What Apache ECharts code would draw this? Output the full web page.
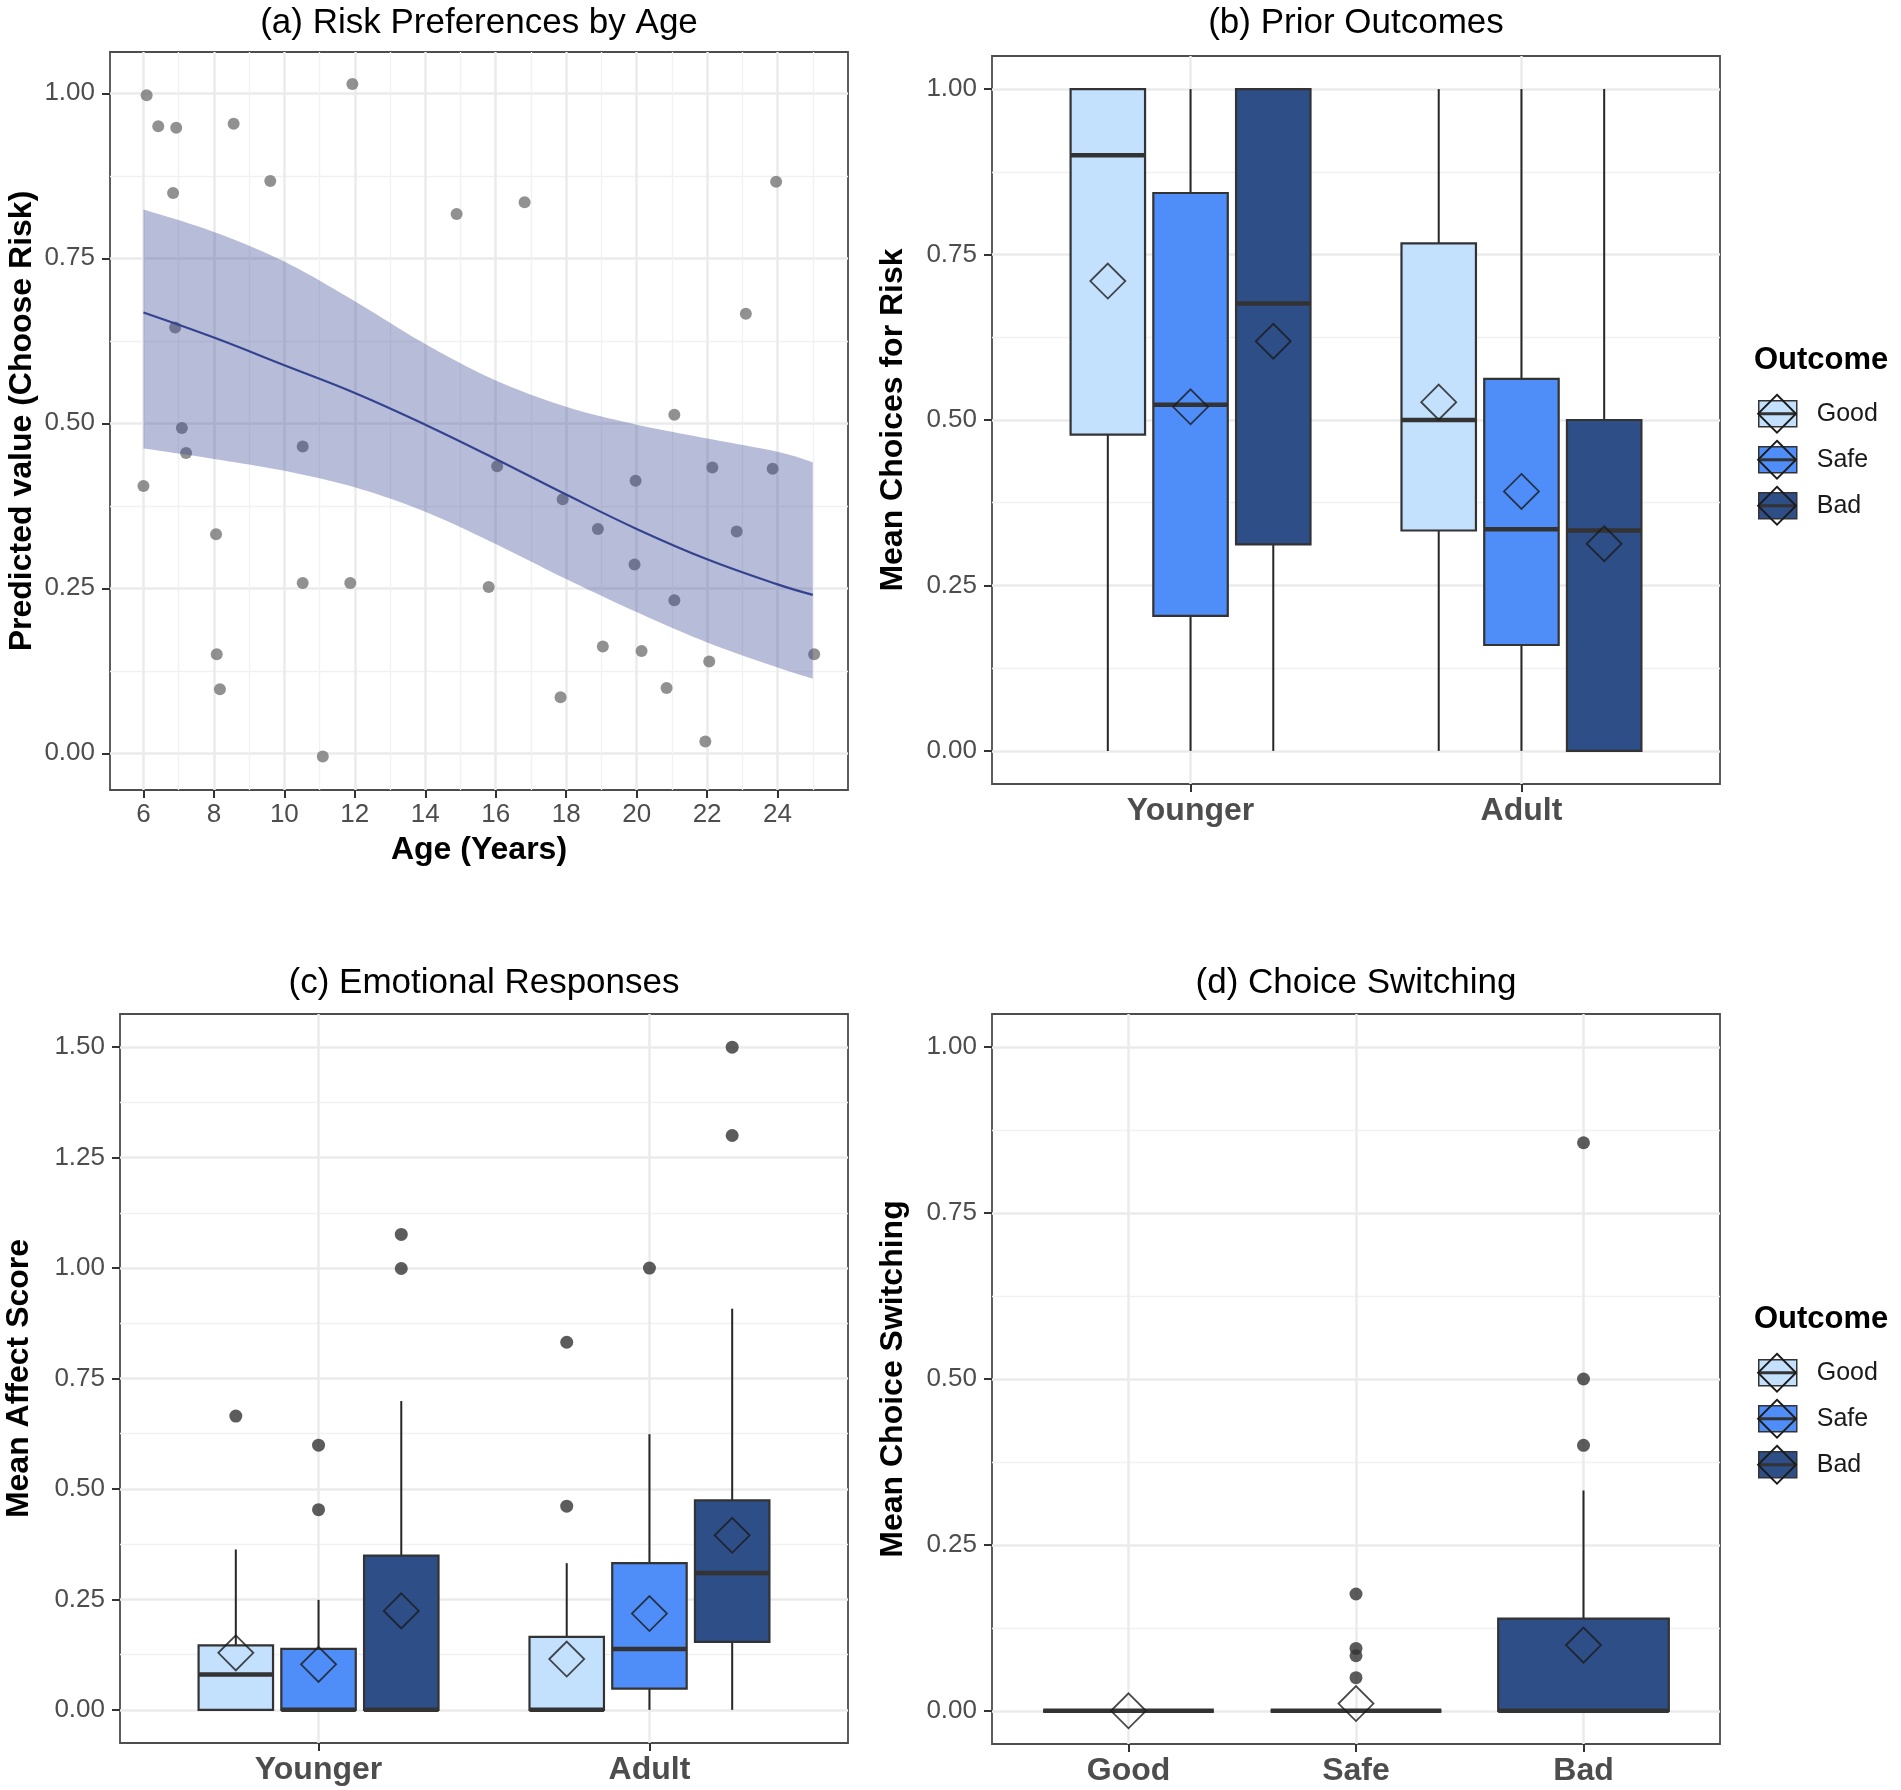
<!DOCTYPE html>
<html><head><meta charset="utf-8">
<script src="https://cdn.jsdelivr.net/npm/echarts@6/dist/echarts.min.js"></script>
<style>html,body{margin:0;padding:0;background:#fff}#c{width:1901px;height:1790px}</style>
</head><body><div id="c"></div><script>
// ---------------- DATA ----------------
const outcomes = ['Good', 'Safe', 'Bad'];
const ageGroups = ['Younger', 'Adult'];
const outcomeColors = ['#C3E0FC', '#4F8EF8', '#2E4E88'];

// (a) scatter of individual predicted values
const ageX = [6.09, 6.42, 6.93, 8.56, 11.93, 9.6, 6.84, 14.89, 16.82, 23.96, 23.1, 6.9, 7.09, 7.21, 10.52, 6.0, 21.07, 16.04, 22.15, 23.86, 19.97, 17.9, 18.9, 22.84, 8.06, 19.94, 10.52, 11.87, 15.8, 21.07, 19.04, 20.14, 8.08, 25.04, 22.06, 8.17, 20.85, 17.84, 21.95, 11.09];
const riskY = [0.997, 0.95, 0.948, 0.954, 1.014, 0.867, 0.849, 0.817, 0.835, 0.866, 0.666, 0.645, 0.493, 0.455, 0.465, 0.405, 0.513, 0.435, 0.433, 0.431, 0.413, 0.385, 0.34, 0.336, 0.332, 0.286, 0.258, 0.258, 0.252, 0.232, 0.162, 0.155, 0.15, 0.15, 0.139, 0.097, 0.099, 0.085, 0.018, -0.005];
// (a) fitted curve and confidence band
const fitAge = [6, 8, 10, 12, 14, 16, 18, 20, 22, 24, 25];
const fitMean = [0.668, 0.630, 0.588, 0.546, 0.498, 0.446, 0.392, 0.340, 0.294, 0.256, 0.240];
const fitUpper = [0.824, 0.790, 0.745, 0.685, 0.620, 0.565, 0.525, 0.498, 0.477, 0.457, 0.441];
const fitLower = [0.462, 0.446, 0.428, 0.403, 0.366, 0.317, 0.264, 0.214, 0.168, 0.130, 0.113];
const ageTicks = [6, 8, 10, 12, 14, 16, 18, 20, 22, 24];
const ageMinor = [7, 9, 11, 13, 15, 17, 19, 21, 23, 25];
const unitTicks = [0, 0.25, 0.5, 0.75, 1];
const unitMinor = [0.125, 0.375, 0.625, 0.875];
const affectTicks = [0, 0.25, 0.5, 0.75, 1, 1.25, 1.5];
const affectMinor = [0.125, 0.375, 0.625, 0.875, 1.125, 1.375];

// (b) boxplots: [lower whisker, Q1, median, Q3, upper whisker] for Younger, Adult
const priorBoxGood = [[0, 0.478, 0.90, 1.00, 1.00], [0, 0.333, 0.50, 0.767, 1.00]];
const priorBoxSafe = [[0, 0.204, 0.523, 0.843, 1.00], [0, 0.160, 0.335, 0.562, 1.00]];
const priorBoxBad  = [[0, 0.312, 0.676, 1.00, 1.00], [0, 0, 0.333, 0.50, 1.00]];
const priorMeanGood = [0.71, 0.527];
const priorMeanSafe = [0.52, 0.392];
const priorMeanBad  = [0.619, 0.313];

// (c)
const affectBoxGood = [[0, 0, 0.08, 0.146, 0.363], [0, 0, 0, 0.165, 0.332]];
const affectBoxSafe = [[0, 0, 0, 0.138, 0.249], [0, 0.048, 0.138, 0.332, 0.624]];
const affectBoxBad  = [[0, 0, 0, 0.349, 0.699], [0, 0.154, 0.31, 0.474, 0.908]];
const affectMeanGood = [0.129, 0.115];
const affectMeanSafe = [0.103, 0.218];
const affectMeanBad  = [0.224, 0.395];
const affectOutGood = [[0.665], [0.832, 0.461]];
const affectOutSafe = [[0.599, 0.453], [1.0]];
const affectOutBad  = [[0.999, 1.076], [1.50, 1.30]];

// (d) per outcome
const switchBox = [[0, 0, 0, 0, 0], [0, 0, 0, 0, 0], [0, 0, 0, 0.139, 0.332]];
const switchMean = [0, 0.011, 0.099];
const switchOut = [[], [0.176, 0.094, 0.083, 0.05], [0.856, 0.5, 0.4]];

// ---------------- LAYOUT ----------------
const FONT = '"Liberation Sans", Arial, Helvetica, sans-serif';
const dodge = [-0.25, 0, 0.25];
const narrowBox = 0.225, wideBox = 0.75;
const grids = [
  {left: 110, top: 52, width: 738, height: 738},
  {left: 992, top: 56, width: 728, height: 728},
  {left: 120, top: 1014, width: 728, height: 729},
  {left: 992, top: 1014, width: 728, height: 730}
];
const legendTops = [400, 1359];
const legendLeft = 1758, keyW = 38, keyH = 26, keyStep = 46, keyStroke = 1.5;

const tickLabel = {fontSize: 26, color: '#4d4d4d', fontFamily: FONT};
const catLabel = {fontSize: 32, fontWeight: 'bold', color: '#4d4d4d', fontFamily: FONT};
const nameStyle = {fontSize: 32, fontWeight: 'bold', color: '#000', fontFamily: FONT};

function axisPair(gridIndex, min, max, majors, minors, fmt, labelStyle, margin, name, nameGap) {
  const main = {
    type: 'value', gridIndex, min, max,
    axisLine: {show: false, onZero: false},
    axisTick: {show: true, customValues: majors, length: 8, lineStyle: {color: '#333', width: 2}},
    axisLabel: Object.assign({show: true, customValues: majors, formatter: fmt, margin}, labelStyle),
    splitLine: {show: true, lineStyle: {color: '#ebebeb', width: 2.5}},
    minorTick: {show: false}, minorSplitLine: {show: false}
  };
  if (name) {
    main.name = name; main.nameLocation = 'middle'; main.nameGap = nameGap; main.nameTextStyle = nameStyle;
  }
  const minor = {
    type: 'value', gridIndex, min, max,
    axisLine: {show: false, onZero: false},
    axisTick: {show: false, customValues: minors.length ? minors : majors},
    axisLabel: {show: false, customValues: minors.length ? minors : majors},
    splitLine: {show: minors.length > 0, lineStyle: {color: '#f1f1f1', width: 1.3}},
    minorTick: {show: false}, minorSplitLine: {show: false}
  };
  return [main, minor];
}
const fmt2 = v => v.toFixed(2);
const fmtGroup = v => ageGroups[Math.round(v) - 1];
const fmtOutcome = v => outcomes[Math.round(v) - 1];

const xAxes = [].concat(
  axisPair(0, 5.05, 26.0, ageTicks, ageMinor, v => String(v), tickLabel, 12, 'Age (Years)', 44),
  axisPair(1, 0.4, 2.6, [1, 2], [], fmtGroup, catLabel, 11),
  axisPair(2, 0.4, 2.6, [1, 2], [], fmtGroup, catLabel, 11),
  axisPair(3, 0.4, 3.6, [1, 2, 3], [], fmtOutcome, catLabel, 11)
);
const yAxes = [].concat(
  axisPair(0, -0.0556, 1.0626, unitTicks, unitMinor, fmt2, tickLabel, 15, 'Predicted value (Choose Risk)', 72),
  axisPair(1, -0.05, 1.05, unitTicks, unitMinor, fmt2, tickLabel, 15, 'Mean Choices for Risk', 83),
  axisPair(2, -0.075, 1.575, affectTicks, affectMinor, fmt2, tickLabel, 15, 'Mean Affect Score', 85),
  axisPair(3, -0.05, 1.05, unitTicks, unitMinor, fmt2, tickLabel, 15, 'Mean Choice Switching', 83)
);

function renderBox(width) {
  return function (params, api) {
    const x = api.value(0);
    const pLo = api.coord([x, api.value(1)]);
    const pQ1 = api.coord([x, api.value(2)]);
    const pMed = api.coord([x, api.value(3)]);
    const pQ3 = api.coord([x, api.value(4)]);
    const pHi = api.coord([x, api.value(5)]);
    const w = api.size([width, 0])[0];
    const cx = pMed[0];
    const fill = api.visual('color');
    return {type: 'group', children: [
      {type: 'line', shape: {x1: cx, y1: pHi[1], x2: cx, y2: pQ3[1]}, style: {stroke: '#262626', lineWidth: 2}},
      {type: 'line', shape: {x1: cx, y1: pQ1[1], x2: cx, y2: pLo[1]}, style: {stroke: '#262626', lineWidth: 2}},
      {type: 'rect', shape: {x: cx - w / 2, y: pQ3[1], width: w, height: pQ1[1] - pQ3[1]}, style: {fill, stroke: '#333', lineWidth: 2.2}},
      {type: 'line', shape: {x1: cx - w / 2, y1: pMed[1], x2: cx + w / 2, y2: pMed[1]}, style: {stroke: '#333', lineWidth: 4.5}}
    ]};
  };
}
function boxSeries(name, axisIdx, rows, xs, color, width) {
  return {
    type: 'custom', name, xAxisIndex: axisIdx, yAxisIndex: axisIdx, silent: true, z: 2,
    itemStyle: {color},
    encode: {x: 0, y: [1, 2, 3, 4, 5]},
    data: rows.map((r, i) => [xs[i]].concat(r)),
    renderItem: renderBox(width)
  };
}
function meanSeries(axisIdx, pts) {
  return {
    type: 'scatter', name: 'mean', xAxisIndex: axisIdx, yAxisIndex: axisIdx, silent: true, z: 6,
    symbol: 'diamond', symbolSize: 35,
    itemStyle: {color: 'rgba(0,0,0,0)', borderColor: '#1a1a1a', borderWidth: 1.8},
    data: pts
  };
}
function outlierSeries(axisIdx, pts) {
  return {
    type: 'scatter', name: 'outlier', xAxisIndex: axisIdx, yAxisIndex: axisIdx, silent: true, z: 5,
    symbol: 'circle', symbolSize: 13, itemStyle: {color: '#333'}, data: pts
  };
}
// Catmull-Rom smoothing of screen-space points (rendering only)
function smoothPts(p, n) {
  const out = [p[0]];
  for (let i = 0; i < p.length - 1; i++) {
    const p0 = p[i - 1] || p[i], p1 = p[i], p2 = p[i + 1], p3 = p[i + 2] || p[i + 1];
    for (let s = 1; s <= n; s++) {
      const t = s / n, t2 = t * t, t3 = t2 * t;
      const f = k => 0.5 * ((2 * p1[k]) + (-p0[k] + p2[k]) * t + (2 * p0[k] - 5 * p1[k] + 4 * p2[k] - p3[k]) * t2 + (-p0[k] + 3 * p1[k] - 3 * p2[k] + p3[k]) * t3);
      out.push([f(0), f(1)]);
    }
  }
  return out;
}

const series = [];
// (a)
series.push({
  type: 'custom', name: 'band', xAxisIndex: 0, yAxisIndex: 0, silent: true, z: 3,
  data: [[fitAge[0], fitLower[0]]],
  renderItem(params, api) {
    const up = smoothPts(fitAge.map((x, i) => api.coord([x, fitUpper[i]])), 10);
    const lo = smoothPts(fitAge.map((x, i) => api.coord([x, fitLower[i]])), 10).reverse();
    return {type: 'polygon', shape: {points: up.concat(lo)}, style: {fill: 'rgba(55,70,150,0.36)'}};
  }
});
series.push({
  type: 'scatter', name: 'points', xAxisIndex: 0, yAxisIndex: 0, silent: true, z: 2,
  symbolSize: 12, itemStyle: {color: '#767676'},
  data: ageX.map((x, i) => [x, riskY[i]])
});
series.push({
  type: 'line', name: 'fit', xAxisIndex: 0, yAxisIndex: 0, silent: true, z: 4,
  smooth: 0.4, showSymbol: false, symbol: 'none',
  lineStyle: {color: '#34438f', width: 2.2},
  data: fitAge.map((x, i) => [x, fitMean[i]])
});
// (b)
const priorBoxes = [priorBoxGood, priorBoxSafe, priorBoxBad];
const priorMeans = [priorMeanGood, priorMeanSafe, priorMeanBad];
outcomes.forEach((o, k) => {
  const xs = ageGroups.map((g, i) => i + 1 + dodge[k]);
  series.push(boxSeries(o, 2, priorBoxes[k], xs, outcomeColors[k], narrowBox));
  series.push(meanSeries(2, priorMeans[k].map((m, i) => [xs[i], m])));
});
// (c)
const affectBoxes = [affectBoxGood, affectBoxSafe, affectBoxBad];
const affectMeans = [affectMeanGood, affectMeanSafe, affectMeanBad];
const affectOuts = [affectOutGood, affectOutSafe, affectOutBad];
outcomes.forEach((o, k) => {
  const xs = ageGroups.map((g, i) => i + 1 + dodge[k]);
  series.push(boxSeries(o, 4, affectBoxes[k], xs, outcomeColors[k], narrowBox));
  const outs = [];
  affectOuts[k].forEach((vals, i) => vals.forEach(v => outs.push([xs[i], v])));
  series.push(outlierSeries(4, outs));
  series.push(meanSeries(4, affectMeans[k].map((m, i) => [xs[i], m])));
});
// (d)
outcomes.forEach((o, k) => {
  const x = k + 1;
  series.push(boxSeries(o, 6, [switchBox[k]], [x], outcomeColors[k], wideBox));
  series.push(outlierSeries(6, switchOut[k].map(v => [x, v])));
  series.push(meanSeries(6, [[x, switchMean[k]]]));
});

// legends (icon bounding box includes stroke, so gap = step - height - stroke)
const legends = legendTops.map(top => ({
  show: true, orient: 'vertical', left: legendLeft, top, padding: 0,
  itemWidth: keyW, itemHeight: keyH, itemGap: keyStep - keyH - keyStroke, icon: 'rect', selectedMode: false,
  data: outcomes,
  itemStyle: {borderColor: '#333', borderWidth: keyStroke},
  textStyle: {fontSize: 25, lineHeight: 26, color: '#1a1a1a', fontFamily: FONT, padding: [0, 0, 0, 15]}
}));
const graphics = [];
legendTops.forEach(top => {
  graphics.push({type: 'text', x: legendLeft - 4, y: top - 40, z: 100,
    style: {text: 'Outcome', font: 'bold 31px ' + FONT, fill: '#000', verticalAlign: 'middle', align: 'left'}});
  outcomes.forEach((o, i) => {
    const cy = top + keyStroke / 2 + keyH / 2 + i * keyStep;
    const cx = legendLeft + keyW / 2;
    graphics.push({type: 'line', z: 100, shape: {x1: legendLeft, y1: cy, x2: legendLeft + keyW, y2: cy}, style: {stroke: '#333', lineWidth: 3}});
    graphics.push({type: 'polygon', z: 101, shape: {points: [[cx, cy - 19], [cx + keyW / 2, cy], [cx, cy + 19], [cx - keyW / 2, cy]]},
      style: {fill: 'rgba(0,0,0,0)', stroke: '#1a1a1a', lineWidth: 1.8}});
  });
});

const titleStyle = {fontSize: 35, fontWeight: 'normal', color: '#000', fontFamily: FONT};
const option = {
  animation: false,
  backgroundColor: '#fff',
  textStyle: {fontFamily: FONT},
  title: [
    {text: '(a) Risk Preferences by Age', left: 479, top: 6, textAlign: 'center', padding: 0, textStyle: titleStyle},
    {text: '(b) Prior Outcomes', left: 1356, top: 6, textAlign: 'center', padding: 0, textStyle: titleStyle},
    {text: '(c) Emotional Responses', left: 484, top: 966, textAlign: 'center', padding: 0, textStyle: titleStyle},
    {text: '(d) Choice Switching', left: 1356, top: 966, textAlign: 'center', padding: 0, textStyle: titleStyle}
  ],
  grid: grids.map(g => Object.assign({show: true, borderColor: '#4d4d4d', borderWidth: 1.8, backgroundColor: 'rgba(0,0,0,0)', containLabel: false, outerBoundsMode: 'none'}, g)),
  xAxis: xAxes,
  yAxis: yAxes,
  legend: legends,
  graphic: graphics,
  series
};
const chart = echarts.init(document.getElementById('c'), null, {renderer: 'canvas'});
chart.setOption(option);
</script></body></html>
